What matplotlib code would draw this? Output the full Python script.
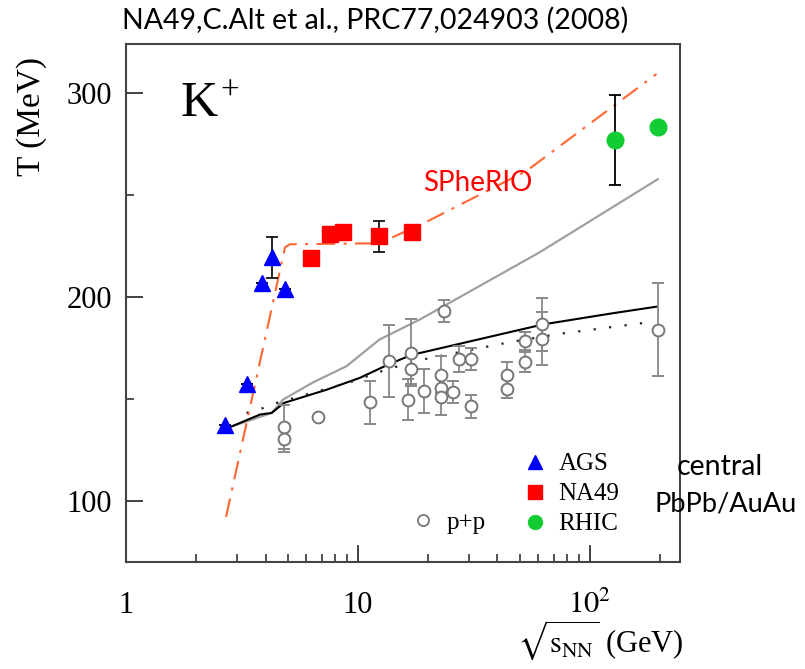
import matplotlib
matplotlib.use("Agg")
import matplotlib.pyplot as plt
from matplotlib.lines import Line2D
import numpy as np

# ---------------- data ----------------
ags_x = [2.67, 3.32, 3.86, 4.26, 4.85]
ags_T = [137.3, 157.5, 207.0, 219.4, 203.7]
ags_err = [0, 0, 0, 10.0, 0]

na49_x = [6.27, 7.57, 8.62, 12.3, 17.1]
na49_T = [218.9, 230.7, 231.7, 229.7, 231.7]
na49_err = [0, 0, 0, 7.6, 0]

rhic_x = [128, 196]
rhic_T = [277.0, 283.1]
rhic_err = [22.0, 0]

pp_x = [4.8, 4.8, 6.7, 11.3, 13.6, 17.0, 17.0, 16.4, 19.3, 22.9, 22.9, 22.9,
        23.5, 25.7, 27.3, 30.6, 30.6, 44.0, 44.0, 52.5, 52.5, 62.5, 62.5, 196]
pp_T = [136.2, 130.3, 141.3, 148.3, 168.5, 172.6, 164.4, 149.6, 153.7, 161.9, 155.4, 151.0,
        193.0, 153.2, 169.6, 169.6, 146.3, 161.9, 155.0, 178.3, 168.0, 186.5, 179.5, 184.0]
pp_err = [11.0, 6.5, 0, 10.5, 17.6, 16.5, 7.0, 10.0, 10.7, 9.0, 5.0, 9.0,
          5.5, 5.4, 6.5, 5.5, 5.7, 6.0, 4.5, 4.5, 5.0, 13.0, 13.0, 23.0]

spherio_x = [2.70, 4.85, 5.1, 12.4, 20.0, 53.4, 194]
spherio_T = [92.1, 224.3, 225.8, 226.3, 237.1, 261.8, 309.3]

gray_x = [2.86, 4.25, 4.75, 6.39, 8.93, 12.4, 18.5, 60.9, 196.5]
gray_T = [136.5, 143.1, 149.6, 158.0, 166.0, 179.1, 188.9, 221.9, 257.7]

black_x = [2.86, 3.78, 4.25, 4.8, 7.34, 10.2, 13.5, 17.0, 62.9, 126, 194]
black_T = [136.5, 142.3, 143.1, 148.0, 154.5, 160.3, 166.8, 171.5, 186.5, 192.0, 195.2]

dot_x = [3.31, 4.04, 4.47, 9.52, 13.3, 18.5, 45.2, 74.3, 181]
dot_T = [143.1, 146.0, 148.0, 158.6, 164.4, 169.0, 177.8, 181.9, 187.6]

x_ticks = [1, 10, 100]
x_ticklabels = ["1", "10", r"$10^{2}$"]
y_ticks = [100, 200, 300]
y_ticklabels = ["100", "200", "300"]

# ---------------- figure ----------------
W, H = 805, 669
plt.rcParams["mathtext.fontset"] = "stix"
fig = plt.figure(figsize=(W / 100, H / 100), dpi=100)
ax = fig.add_axes([126 / W, 1 - 562 / H, (680 - 126) / W, (562 - 44) / H])

def fx(px):
    return px / W

def fy(py):
    return 1 - py / H

serif = "Liberation Serif"
sans = "Lato"

# model curves
ax.plot(gray_x, gray_T, color="#a0a0a0", lw=1.6, zorder=2)
ax.plot(black_x, black_T, color="black", lw=1.5, zorder=2)
ax.plot(dot_x, dot_T, color="#222222", lw=1.6, linestyle=(0, (1, 6)), zorder=2)
ax.plot(spherio_x, spherio_T, color="#ff6633", lw=1.5,
        linestyle=(0, (9, 4, 1.5, 4)), zorder=3)

# p+p
ax.errorbar(pp_x, pp_T, yerr=pp_err, fmt="o", ms=8.5, mfc="white", mec="#777777",
            mew=1.4, ecolor="#888888", elinewidth=1.3, capsize=4.5, capthick=1.3, zorder=4)

# heavy ion data
ax.errorbar(ags_x, ags_T, yerr=ags_err, fmt="none", ecolor="black", elinewidth=1.2,
            capsize=4, capthick=1.2, zorder=4)
ax.errorbar(na49_x, na49_T, yerr=na49_err, fmt="none", ecolor="black", elinewidth=1.2,
            capsize=4, capthick=1.2, zorder=4)
ax.errorbar(rhic_x, rhic_T, yerr=rhic_err, fmt="none", ecolor="black", elinewidth=1.3,
            capsize=4, capthick=1.3, zorder=4)
ax.plot(ags_x, ags_T, "^", color="#0000ff", ms=12, mec="#0000ff", ls="none", zorder=5)
ax.plot(na49_x, na49_T, "s", color="#ff0000", ms=12, mec="#ff0000", ls="none", zorder=5)
ax.plot(rhic_x, rhic_T, "o", color="#11cc33", ms=12, mec="#11cc33", ls="none", zorder=5)

# axes
ax.set_xscale("log")
ax.set_xlim(1, 245)
ax.set_ylim(70, 324)
ax.set_xticks(x_ticks)
ax.set_xticklabels(x_ticklabels)
ax.set_yticks(y_ticks)
ax.set_yticklabels(y_ticklabels)
ax.set_yticks([150, 250], minor=True)
ax.set_xticks([2, 3, 4, 5, 6, 7, 8, 9, 20, 30, 40, 50, 60, 70, 80, 90, 200], minor=True)
ax.set_xticklabels([], minor=True)
ax.tick_params(axis="both", which="major", direction="in", length=12, width=1.3,
               colors="#333333", labelcolor="black", labelsize=22)
ax.tick_params(axis="both", which="minor", direction="in", length=6, width=1.2,
               colors="#333333")
ax.tick_params(axis="x", which="both", top=False, pad=21)
ax.tick_params(axis="y", which="both", right=False, pad=10)
for lab in ax.get_xticklabels() + ax.get_yticklabels():
    lab.set_fontfamily(serif)
for s in ax.spines.values():
    s.set_color("#444444")
    s.set_linewidth(1.5)

# labels
fig.text(fx(32), fy(116), "T (MeV)", rotation=90, ha="center", va="center",
         fontsize=24, family=serif)
fig.text(fx(600), fy(640), r"$\sqrt{\mathrm{s}_{\mathrm{NN}}}$ (GeV)", ha="center",
         va="center", fontsize=22, family=serif)
fig.text(fx(180), fy(104), "K", ha="left", va="center", fontsize=37, family=serif)
fig.text(fx(230), fy(92), "+", ha="center", va="center", fontsize=24, family=serif)

fig.text(fx(375), fy(20), "NA49,C.Alt et al., PRC77,024903 (2008)", ha="center",
         va="center", fontsize=20.5, family=sans)
fig.text(fx(478), fy(183), "SPheRIO", ha="center", va="center", fontsize=20,
         family=sans, color="#ff0000")
fig.text(fx(677), fy(467), "central", ha="left", va="center", fontsize=20.5, family=sans)
fig.text(fx(654), fy(504), "PbPb/AuAu", ha="left", va="center", fontsize=19.5, family=sans)

# legends
h_ags = Line2D([], [], marker="^", color="#0000ff", ls="none", ms=10)
h_na = Line2D([], [], marker="s", color="#ff0000", ls="none", ms=10)
h_rh = Line2D([], [], marker="o", color="#11cc33", ls="none", ms=10)
leg1 = ax.legend(handles=[h_ags, h_na, h_rh], labels=["AGS", "NA49", "RHIC"],
                 loc="upper left", bbox_to_anchor=(fx(522), fy(453)),
                 bbox_transform=fig.transFigure, frameon=False, handlelength=1.0,
                 handletextpad=0.45, labelspacing=0.3, borderpad=0, borderaxespad=0,
                 prop={"family": serif, "size": 18})
ax.add_artist(leg1)
h_pp = Line2D([], [], marker="o", mfc="white", mec="#777777", mew=1.3, ls="none", ms=8)
ax.legend(handles=[h_pp], labels=["p+p"], loc="upper left",
          bbox_to_anchor=(fx(410), fy(511)), bbox_transform=fig.transFigure,
          frameon=False, handlelength=1.0, handletextpad=0.45, borderpad=0,
          borderaxespad=0, prop={"family": serif, "size": 18})

fig.savefig("out.png", dpi=100)
